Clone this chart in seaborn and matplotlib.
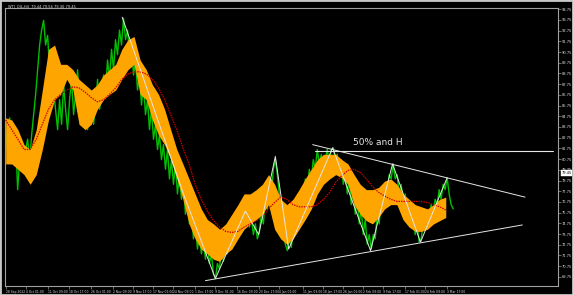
import numpy as np
import pandas as pd
import matplotlib
matplotlib.use("Agg")
import matplotlib.pyplot as plt
import seaborn as sns

# ---- data ----
green_close = [81.65, 84.0, 84.6, 80.3, 82.1, 82.6, 77.9, 80.7, 81.65, 79.6, 81.65, 82.6,
    80.5, 83.0, 84.9, 86.8, 89.1, 91.4,
    92.8, 93.7, 91.4, 92.3, 89.1, 90.5, 87.2, 85.4, 83.5, 86.3, 84.0, 87.7, 85.4, 83.5,
    86.3, 88.2, 84.9, 86.8, 89.1, 85.8, 87.2, 84.4, 86.3, 83.5, 85.4, 86.8, 84.0, 85.8,
    88.2, 85.4, 86.8, 88.6, 87.2, 90.0, 88.2, 91.0, 89.1, 91.9, 90.5, 92.8, 91.4, 93.9,
    91.9, 92.8, 90.5, 91.4, 88.6, 90.0, 87.2, 88.6, 85.8, 87.7, 84.9, 86.3, 83.5, 85.4,
    82.6, 84.0, 81.65, 83.0, 80.7, 82.1, 79.8, 81.65, 78.9, 80.7, 78.4, 80.3, 77.5, 79.3,
    77.0, 78.4, 75.6, 77.0, 74.7, 76.1, 73.3, 74.7, 72.35, 73.7, 71.9, 73.3, 71.4, 72.8,
    71.0, 71.9, 70.0, 69.6, 71.0, 70.5, 72.35, 71.2, 73.3, 71.9, 73.7, 72.35, 73.5, 74.7,
    73.3, 75.1, 74.0, 75.6, 74.7, 75.9, 74.4, 75.3, 73.7, 74.7, 73.3, 74.0, 75.6, 74.7,
    77.0, 76.1, 78.4, 77.5, 79.8, 80.7, 79.3, 77.5, 75.6, 74.2, 72.8, 72.2, 73.3, 72.5,
    74.7, 73.7, 76.1, 75.1, 77.5, 76.5, 78.9, 77.9, 79.8, 78.9, 80.7, 79.8, 81.65, 80.3,
    81.2, 79.3, 80.7, 81.65, 80.3, 81.65, 81.8, 80.7, 81.2, 79.3, 80.7, 78.4, 79.8, 77.5,
    78.9, 76.5, 77.9, 75.6, 77.0, 74.7, 76.1, 73.7, 75.1, 72.8, 73.7, 72.35, 73.7, 73.3,
    75.6, 74.7, 77.0, 76.1, 78.4, 77.5, 79.3, 78.9, 80.3, 78.9, 79.3, 77.5, 78.4, 76.5,
    77.5, 75.6, 76.5, 74.7, 75.6, 73.7, 74.7, 73.0, 73.3, 74.7, 74.2, 75.6, 75.1, 76.5,
    75.6, 77.0, 76.5, 77.9, 77.0, 78.4, 77.9, 79.0, 77.5, 76.5, 76.1]

band_hi = [84.6, 84.4, 83.5, 82.1, 81.65, 83.5, 87.2, 91.0, 91.4, 89.6, 89.6, 89.1, 88.2,
    87.7, 87.2, 87.7, 88.6, 89.1, 89.6, 91.0, 91.9, 92.2, 90.0, 89.1, 87.7, 86.8, 85.4,
    83.5, 81.65, 80.3, 78.9, 77.5, 76.1, 75.1, 74.7, 74.2, 74.7, 75.6, 76.5, 77.5, 77.5,
    77.9, 78.4, 79.3, 78.4, 77.0, 76.5, 77.0, 77.9, 78.9, 79.8, 80.7, 81.2, 81.2, 81.2,
    80.7, 80.3, 79.3, 78.4, 77.9, 77.9, 78.1, 78.7, 78.9, 78.4, 77.5, 77.0, 76.5, 76.3,
    76.1, 76.5, 77.0, 77.2]
band_lo = [80.3, 80.3, 79.8, 79.3, 78.4, 79.3, 81.65, 84.4, 86.3, 86.8, 88.2, 87.2, 84.0,
    83.5, 84.0, 85.4, 86.3, 86.8, 87.2, 88.2, 89.1, 89.6, 86.8, 86.3, 84.4, 83.0, 82.1,
    80.7, 78.9, 77.0, 74.7, 73.3, 72.35, 71.9, 71.4, 71.2, 71.9, 72.35, 73.3, 74.2, 74.7,
    75.1, 75.6, 76.5, 74.2, 73.3, 72.8, 73.3, 74.2, 75.1, 76.1, 77.5, 78.4, 78.9, 79.3,
    79.0, 78.4, 76.5, 75.6, 75.0, 74.7, 75.3, 76.1, 76.5, 76.5, 75.1, 74.4, 74.0, 74.0,
    74.2, 74.7, 75.0, 75.3]
ma_line = [84.4, 83.5, 82.6, 81.65, 81.65, 82.6, 84.0, 85.4, 86.3, 86.8, 87.2, 87.5, 87.4,
    87.0, 86.5, 86.1, 86.3, 86.8, 87.4, 88.2, 88.7, 88.9, 88.9, 88.7, 88.2, 87.4, 86.3,
    84.9, 83.5, 81.8, 80.3, 78.4, 77.0, 75.9, 75.0, 74.4, 74.0, 73.9, 74.0, 74.4, 74.7,
    75.0, 75.3, 76.1, 76.7, 77.2, 77.0, 76.5, 76.3, 76.3, 76.3, 76.5, 77.0, 77.65, 78.6,
    79.2, 79.7, 79.8, 79.5, 78.9, 78.2, 77.65, 77.3, 77.0, 76.8, 76.8, 76.8, 76.8, 76.8,
    76.7, 76.5, 76.3, 76.0]

green_step = 3.0      # bars between green samples
band_step = 9.18      # bars between band / MA samples

zig_bar = [175, 267, 315, 360, 380, 405, 425, 491, 548, 581, 623, 663]
zig_price = [94.0, 77.5, 69.6, 75.9, 73.7, 81.0, 72.35, 81.8, 72.2, 80.3, 73.0, 79.0]
support_bar = [300, 776]
support_price = [69.4, 74.6]
resist_bar = [461, 780]
resist_price = [82.1, 77.2]
level_bar = [465, 822]
level_price = [81.55, 81.55]
level_text = "50% and H"
level_text_bar = 522

date_tick_bars = [0, 30, 63, 95, 128, 161, 191, 221, 252, 285, 315, 348, 380, 410, 446,
                  476, 506, 537, 567, 600, 630, 663]
date_labels = ["28 Sep 2022", "4 Oct 01:00", "11 Oct 09:00", "18 Oct 17:00", "26 Oct 01:00",
               "2 Nov 09:00", "9 Nov 17:00", "17 Nov 01:00", "24 Nov 09:00", "1 Dec 17:00",
               "9 Dec 01:00", "16 Dec 09:00", "23 Dec 17:00", "4 Jan 01:00", "11 Jan 09:00",
               "18 Jan 17:00", "26 Jan 01:00", "2 Feb 09:00", "9 Feb 17:00", "17 Feb 01:00",
               "24 Feb 09:00", "3 Mar 17:00"]
price_ticks = [69.75, 70.75, 71.75, 72.75, 73.75, 74.75, 75.75, 76.75, 77.75, 78.75, 79.75,
               80.75, 81.75, 82.75, 83.75, 84.75, 85.75, 86.75, 87.75, 88.75, 89.75, 90.75,
               91.75, 92.75, 93.75, 94.75]
last_price = 79.45
header = "WTI_OIL,H4  79.44 79.56 79.30 79.45"

# ---- frames ----
green_df = pd.DataFrame({"bar": np.arange(len(green_close)) * green_step, "price": green_close})
n = min(len(band_hi), len(band_lo), len(ma_line))
band_df = pd.DataFrame({"bar": np.arange(n) * band_step, "hi": band_hi[:n], "lo": band_lo[:n],
                        "ma": ma_line[:n]})

sns.set_theme(style="dark")
plt.rcParams["font.family"] = ["DejaVu Sans"]

fig = plt.figure(figsize=(5.73, 2.95), dpi=100, facecolor="black")
ax = fig.add_axes([5 / 573, 1 - 286 / 295, 553 / 573, 278 / 295])
ax.set_facecolor("black")

sns.lineplot(data=green_df, x="bar", y="price", ax=ax, color="#00c000", lw=1.0, zorder=2)
ax.fill_between(band_df["bar"], band_df["lo"], band_df["hi"], color="#ffa500", lw=0, zorder=3)
sns.lineplot(data=band_df, x="bar", y="ma", ax=ax, color="#d00000", lw=0.9,
             linestyle=(0, (1.2, 0.8)), zorder=4)

wc = "#e6e6e6"
sns.lineplot(x=zig_bar, y=zig_price, ax=ax, color=wc, lw=0.7, zorder=5, sort=False)
sns.lineplot(x=support_bar, y=support_price, ax=ax, color=wc, lw=0.7, zorder=5)
sns.lineplot(x=resist_bar, y=resist_price, ax=ax, color=wc, lw=0.7, zorder=5)
sns.lineplot(x=level_bar, y=level_price, ax=ax, color=wc, lw=0.8, zorder=5)
ax.text(level_text_bar, 81.85, level_text, color=wc, fontsize=6.5, ha="left", va="bottom",
        zorder=6)

ax.set_xlim(-1, 829.5)
ax.set_ylim(68.9, 94.86)
ax.set_xlabel("")
ax.set_ylabel("")
ax.grid(False)

ax.set_xticks(date_tick_bars)
ax.set_xticklabels(date_labels, fontsize=2.2, color="#dddddd", ha="left")
ax.set_yticks(price_ticks)
ax.set_yticklabels([f"{v:.2f}" for v in price_ticks], fontsize=2.6, color="#dddddd")
ax.yaxis.tick_right()
ax.tick_params(axis="x", length=2, width=0.5, color="#909090", pad=1.0, bottom=True)
ax.tick_params(axis="y", length=2, width=0.5, color="#909090", pad=0.8, right=True, left=False)
for s in ax.spines.values():
    s.set_color("#a0a0a0")
    s.set_linewidth(0.8)

ax.annotate(f"{last_price:.2f}", xy=(1.0, last_price), xycoords=("axes fraction", "data"),
            xytext=(2.5, 0), textcoords="offset points", fontsize=2.6, color="black",
            va="center", ha="left",
            bbox=dict(boxstyle="square,pad=0.15", fc="white", ec="white", lw=0.3))

fig.text(8 / 573, 1 - 4 / 295, header, fontsize=2.6, color="#dddddd", ha="left", va="top")

border = plt.Rectangle((0, 0), 1, 1, transform=fig.transFigure, fill=False,
                       ec="#c8c8c8", lw=2.0)
fig.patches.append(border)

fig.savefig("out.png", dpi=100, facecolor="black")
